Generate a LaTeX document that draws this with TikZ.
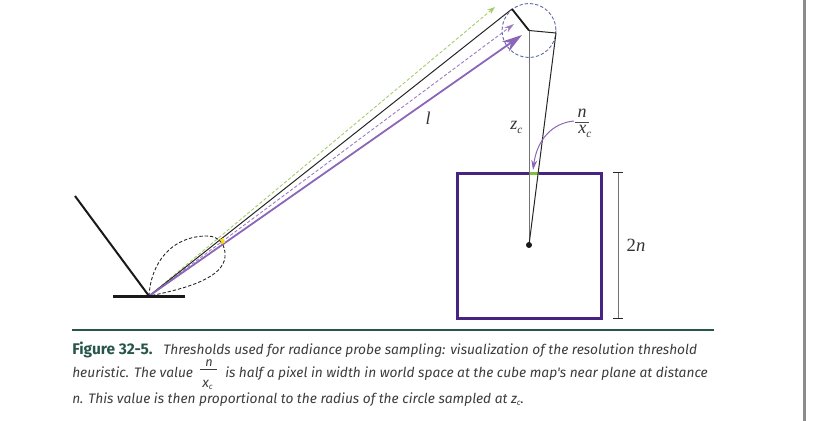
\documentclass[tikz,border=0pt]{standalone}
\usepackage{fontspec}
\setmainfont{Liberation Serif}
\newfontfamily\capfont{Fira Sans}
\usetikzlibrary{arrows.meta}
\definecolor{pp}{RGB}{139,102,184}
\definecolor{dpp}{RGB}{72,36,130}
\definecolor{gr}{RGB}{128,190,65}
\definecolor{lgr}{RGB}{165,205,110}
\definecolor{rulec}{RGB}{40,85,75}
\definecolor{capt}{RGB}{60,60,60}
\definecolor{circ}{RGB}{95,105,165}
\tikzset{
 x=0.75pt,y=-0.75pt,
 px/.style={line width=#1*0.75pt},
 lab/.style={inner sep=0pt,font=\fontsize{13.5pt}{14pt}\selectfont\itshape,text=black!80},
 capline/.style={anchor=base west,inner sep=0pt,text=capt,font=\capfont\fontsize{10.3pt}{12pt}\selectfont\itshape},
}
\begin{document}
\begin{tikzpicture}
\useasboundingbox (0,0) rectangle (815,421);
\fill[black!45] (803,0) rectangle (806,421);
% coordinates
\coordinate (o) at (149,296);
\coordinate (gl) at (113,296.5);
\coordinate (gr) at (185,296.5);
\coordinate (wall) at (75,196);
\coordinate (a) at (512,9);
\coordinate (b) at (529,30.5);
\coordinate (c) at (556,33);
\coordinate (tp) at (522,35);
\coordinate (td) at (514,24);
\coordinate (tg) at (495,7);
\coordinate (p) at (529,245);
% lobe
\draw[px=0.9,dash pattern=on 2.5pt off 1.5pt,black!85] (o) .. controls (151,262) and (172,236) .. (207,236) .. controls (220,236) and (226,246) .. (225,257) .. controls (223,277) and (190,288) .. (o);
% rays
\draw[px=0.9,dash pattern=on 2.5pt off 1.5pt,lgr,-{Stealth[length=8pt*0.75,width=6pt*0.75]}] (o) -- (tg);
\draw[px=0.9,dash pattern=on 2.5pt off 1.5pt,pp!85,-{Stealth[length=10pt*0.75,width=6pt*0.75]}] (o) -- (td);
\draw[px=1,black!85] (o) -- (a);
\draw[px=1.8,pp,-{Stealth[length=20pt*0.75,width=12pt*0.75]}] (o) -- (tp);
\fill[yellow!80!orange] (220,239.5) -- (223,238) -- (225,242.5) -- (222,244) -- cycle;
% surface
\draw[px=2,black!90] (wall) -- (o);
\draw[px=3,black!90] (gl) -- (gr);
% circle
\draw[px=0.9,circ,dash pattern=on 2.5pt off 1.5pt] (b) circle[radius=27];
\draw[px=1.8,black!90] (a) -- (b);
\draw[px=1,black!85] (b) -- (c);
% box
\draw[px=3,dpp] (457,173) rectangle (601.5,318);
\draw[px=3.5,gr] (529,173.5) -- (539,173.5);
% verticals
\draw[px=1,black!55] (b) -- (p);
\draw[px=1,black!85] (c) -- (p);
\node[circle,fill=black!90,minimum size=4.5pt,inner sep=0pt] (pd) at (p) {};
% curved arrow
\coordinate (ls) at (574,121);
\coordinate (le) at (533,170);
\draw[px=1,pp,-{Stealth[length=10pt*0.75,width=6pt*0.75]}] (ls) .. controls (552,123) and (537,140) .. (le);
% labels
\node[lab] (ll) at (428,118) {l};
\node[lab] (zc) at (516.5,127) {z\raisebox{-3pt}{\fontsize{8.5pt}{8.5pt}\selectfont c}};
\node[lab] (nn) at (582,113.5) {n};
\draw[px=0.8,black!70] (575,122) -- (589,122);
\node[lab] (xc) at (585,131.5) {x\raisebox{-3.5pt}{\fontsize{8.5pt}{8.5pt}\selectfont c}};
\node[lab,font=\fontsize{14pt}{14pt}\selectfont] (tn) at (636,245) {2\textit{n}};
% dimension
\coordinate (d1) at (618,172);
\coordinate (d2) at (618,318);
\draw[px=1,black!55] (d1) -- (d2);
\draw[px=0.9,black!85] (613,172) -- (623,172);
\draw[px=0.9,black!85] (613,318) -- (623,318);
% rule
\coordinate (r1) at (72,330);
\coordinate (r2) at (714,330);
\draw[px=2,rulec] (r1) -- (r2);
% caption
\node[capline,font=\capfont\fontsize{11.6pt}{12pt}\selectfont\bfseries,text=rulec] (c1a) at (72,354) {Figure 32-5.};
\node[capline] (c1) at (163,354) {Thresholds used for radiance probe sampling: visualization of the resolution threshold};
\node[capline] (c2a) at (72,377) {heuristic. The value};
\node[capline] (c2b) at (225,377) {is half a pixel in width in world space at the cube map's near plane at distance};
\node[capline] (c3) at (72,403) {n. This value is then proportional to the radius of the circle sampled at z\raisebox{-1.5pt}{\fontsize{6pt}{6pt}\selectfont c}.};
\node[capline,font=\capfont\fontsize{9.5pt}{10pt}\selectfont\itshape] (fn) at (205,366.5) {n};
\draw[px=0.8,capt] (200,369) -- (217,369);
\node[capline] (fx) at (202,387) {x\raisebox{-2pt}{\fontsize{6pt}{6pt}\selectfont c}};
\end{tikzpicture}
\end{document}
